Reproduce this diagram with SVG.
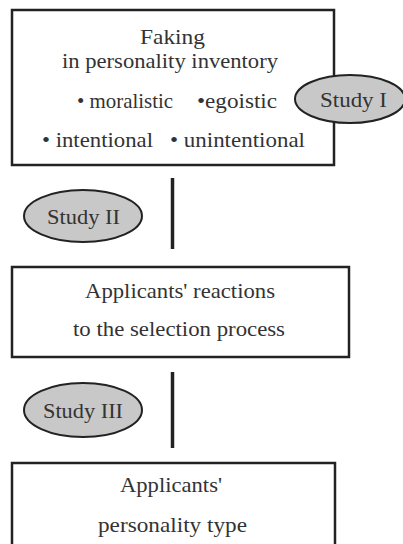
<svg xmlns="http://www.w3.org/2000/svg" width="403" height="544" viewBox="0 0 403 544">
<style>
.box{fill:#fff;stroke:#222;stroke-width:2.5}
.ell{fill:#c8c8c8;stroke:#222;stroke-width:2}
.con{stroke:#222;stroke-width:3.5}
text{font-family:"Liberation Serif","DejaVu Serif",serif;font-size:22px;fill:#333;text-anchor:middle}
</style>
<rect width="403" height="544" fill="#fff"/>
<g id="connectors">
<line class="con" x1="172.5" y1="178" x2="172.5" y2="249"/>
<line class="con" x1="172.5" y1="372" x2="172.5" y2="448"/>
</g>
<g id="faking">
<rect class="box" x="12" y="10" width="322" height="155"/>
<text x="172.5" y="44" textLength="65" lengthAdjust="spacingAndGlyphs">Faking</text>
<text x="170" y="68" textLength="216" lengthAdjust="spacingAndGlyphs">in personality inventory</text>
<text x="125" y="108" textLength="96" lengthAdjust="spacingAndGlyphs">• moralistic</text>
<text x="237" y="108" textLength="80" lengthAdjust="spacingAndGlyphs">•egoistic</text>
<text x="97.5" y="147" textLength="111" lengthAdjust="spacingAndGlyphs">• intentional</text>
<text x="237.5" y="147" textLength="135" lengthAdjust="spacingAndGlyphs">• unintentional</text>
</g>
<g id="study1">
<ellipse class="ell" cx="350" cy="99" rx="55" ry="24"/>
<text x="353.5" y="107" textLength="67" lengthAdjust="spacingAndGlyphs">Study I</text>
</g>
<g id="study2">
<ellipse class="ell" cx="83" cy="216" rx="59" ry="26"/>
<text x="83.5" y="224" textLength="73" lengthAdjust="spacingAndGlyphs">Study II</text>
</g>
<g id="reactions">
<rect class="box" x="12" y="267" width="337" height="90"/>
<text x="180" y="298" textLength="190" lengthAdjust="spacingAndGlyphs">Applicants' reactions</text>
<text x="179" y="336" textLength="212" lengthAdjust="spacingAndGlyphs">to the selection process</text>
</g>
<g id="study3">
<ellipse class="ell" cx="83" cy="410" rx="59" ry="27"/>
<text x="83" y="418" textLength="80" lengthAdjust="spacingAndGlyphs">Study III</text>
</g>
<g id="personality">
<rect class="box" x="12" y="463" width="323" height="100"/>
<text x="171" y="492" textLength="102" lengthAdjust="spacingAndGlyphs">Applicants'</text>
<text x="172.5" y="532" textLength="149" lengthAdjust="spacingAndGlyphs">personality type</text>
</g>
</svg>
